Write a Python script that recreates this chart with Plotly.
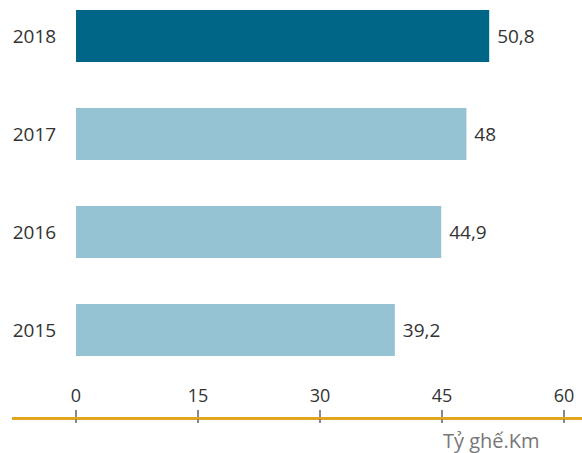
import plotly.graph_objects as go

years = ["2015", "2016", "2017", "2018"]
values = [39.2, 44.9, 48, 50.8]
labels = ["39,2", "44,9", "48", "50,8"]
tick_vals = [0, 15, 30, 45, 60]
tick_text = ["0", "15", "30", "45", "60"]
unit_label = "Tỷ ghế.Km"

colors = ["#96C3D3", "#96C3D3", "#96C3D3", "#006687"]

FONT = "Open Sans"

fig = go.Figure()
fig.add_trace(go.Bar(
    y=years, x=values, orientation="h",
    marker=dict(color=colors, line=dict(width=0)),
    width=0.53,
    text=labels, textposition="outside",
    texttemplate=" %{text}",
    textfont=dict(family=FONT, size=19, color="#333333"),
    cliponaxis=False,
    hoverinfo="skip",
))
# second x axis only for the lower half of tick marks
fig.add_trace(go.Scatter(x=[0], y=[years[0]], xaxis="x2", mode="markers",
                         marker=dict(opacity=0), hoverinfo="skip", showlegend=False))

xr = [-7.87, 62.21]
fig.update_layout(
    width=582, height=453,
    margin=dict(l=12, r=0, t=0, b=35),
    paper_bgcolor="white", plot_bgcolor="white",
    showlegend=False,
    xaxis=dict(
        range=xr, anchor="free", position=0, side="top",
        tickvals=tick_vals, ticktext=tick_text,
        ticks="outside", ticklen=7, tickwidth=2, tickcolor="#888888",
        showline=True, linecolor="#E4A51E", linewidth=2.5,
        showgrid=False, zeroline=False,
        tickfont=dict(family=FONT, size=18, color="#333333"),
        ticklabelstandoff=1,
    ),
    xaxis2=dict(
        range=xr, overlaying="x", anchor="free", position=0, side="bottom",
        tickvals=tick_vals, showticklabels=False,
        ticks="outside", ticklen=4, tickwidth=2, tickcolor="#888888",
        showline=False, showgrid=False, zeroline=False,
    ),
    yaxis=dict(
        type="category", categoryorder="array", categoryarray=years,
        range=[-0.898, 3.367],
        anchor="free", position=0.1123,
        showline=False, showgrid=False, zeroline=False,
        ticks="outside", ticklen=16, tickcolor="rgba(0,0,0,0)",
        tickfont=dict(family=FONT, size=19, color="#333333"),
    ),
    annotations=[dict(
        text=unit_label, xref="paper", yref="paper",
        x=0.842, y=-0.055, xanchor="center", yanchor="middle",
        showarrow=False, font=dict(family=FONT, size=20, color="#777777"),
    )],
)

fig.write_html(
    "out.html",
    config={"displayModeBar": False},
    post_script="document.body.style.margin='0';document.body.style.overflow='hidden';",
)
